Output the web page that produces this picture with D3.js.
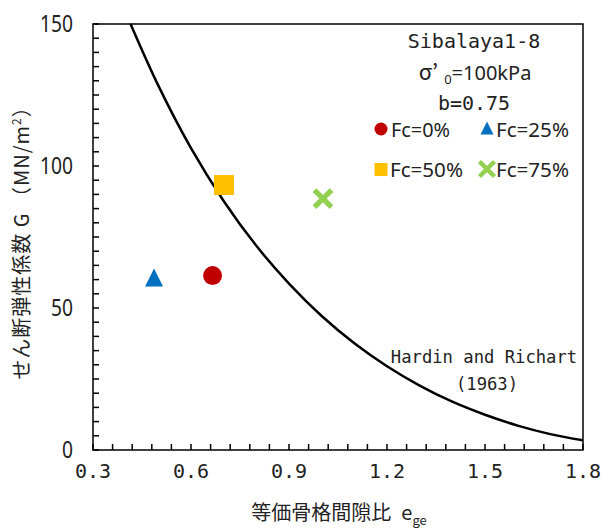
<!DOCTYPE html>
<html>
<head>
<meta charset="utf-8">
<script src="https://cdn.jsdelivr.net/npm/d3@7"></script>
<style>
  body { margin: 0; background: #fff; }
  svg { display: block; }
</style>
</head>
<body>
<svg id="chart" width="604" height="528"></svg>
<script>
// Hardin and Richart (1963) curve
let curveE = [0.415, 0.5, 0.6, 0.7, 0.8, 0.9, 1.0, 1.1, 1.2, 1.3, 1.4, 1.5, 1.6, 1.7, 1.8];
let curveG = [150, 128.3, 106.3, 87.7, 71.9, 58.6, 47.2, 37.6, 29.5, 22.7, 17.0, 12.4, 8.6, 5.6, 3.4];

// test points
let seriesNames = ['Fc=0%', 'Fc=25%', 'Fc=50%', 'Fc=75%'];
let seriesE = [0.666, 0.487, 0.701, 1.004];
let seriesG = [61.4, 60.2, 93.3, 88.5];
let seriesColors = ['#c00000', '#0070c0', '#ffc000', '#92d050'];
let seriesShapes = ['circle', 'triangle', 'square', 'cross'];

let xTicks = [0.3, 0.6, 0.9, 1.2, 1.5, 1.8];
let yTicks = [0, 50, 100, 150];

let margin = {left: 93, right: 21, top: 24, bottom: 78};
let width = 604, height = 528;

let svg = d3.select('#chart');

let x = d3.scaleLinear().domain([0.3, 1.8]).range([margin.left, width - margin.right]);
let y = d3.scaleLinear().domain([0, 150]).range([height - margin.bottom, margin.top]);

let monoFont = '"DejaVu Sans Mono", monospace';
let sansFont = '"Noto Sans", "Liberation Sans", sans-serif';
let cjkFont = '"Noto Sans CJK JP", sans-serif';

// minor ticks pointing inward
let xMinor = d3.range(0.3, 1.8001, 0.06);
let yMinor = d3.range(0, 150.001, 5);

svg.append('g')
    .selectAll('line')
    .data(xMinor)
    .join('line')
    .attr('x1', d => x(d)).attr('x2', d => x(d))
    .attr('y1', y(0)).attr('y2', y(0) - 6)
    .attr('stroke', '#000').attr('stroke-width', 1.5);

svg.append('g')
    .selectAll('line')
    .data(yMinor)
    .join('line')
    .attr('x1', x(0.3)).attr('x2', x(0.3) + 6)
    .attr('y1', d => y(d)).attr('y2', d => y(d))
    .attr('stroke', '#000').attr('stroke-width', 1.5);

// frame
svg.append('rect')
    .attr('x', x(0.3)).attr('y', y(150))
    .attr('width', x(1.8) - x(0.3)).attr('height', y(0) - y(150))
    .attr('fill', 'none').attr('stroke', '#000').attr('stroke-width', 1.5);

// tick labels
svg.append('g')
    .selectAll('text')
    .data(xTicks)
    .join('text')
    .attr('x', d => x(d))
    .attr('y', 478)
    .attr('text-anchor', 'middle')
    .attr('font-family', monoFont)
    .attr('font-size', 20)
    .attr('fill', '#222')
    .text(d => d.toFixed(1));

svg.append('g')
    .selectAll('text')
    .data(yTicks)
    .join('text')
    .attr('x', 73)
    .attr('y', d => y(d))
    .attr('dy', '0.36em')
    .attr('text-anchor', 'end')
    .attr('font-family', sansFont)
    .attr('font-size', 23)
    .attr('textLength', d => String(d).length * 11)
    .attr('lengthAdjust', 'spacingAndGlyphs')
    .attr('fill', '#222')
    .text(d => d);

// axis titles
let xTitle = svg.append('text')
    .attr('x', 339).attr('y', 520)
    .attr('text-anchor', 'middle')
    .attr('font-family', cjkFont)
    .attr('font-size', 20)
    .attr('fill', '#222');
xTitle.append('tspan').text('等価骨格間隙比');
xTitle.append('tspan').attr('dx', 10).text('e');
xTitle.append('tspan').attr('font-size', 13).attr('dy', 5).text('ge');

let yTitle = svg.append('text')
    .attr('transform', 'translate(29,238) rotate(-90)')
    .attr('text-anchor', 'middle')
    .attr('font-family', cjkFont)
    .attr('font-size', 20)
    .attr('letter-spacing', 1)
    .attr('fill', '#222');
yTitle.append('tspan').text('せん断弾性係数 G （MN/m');
yTitle.append('tspan').attr('font-size', 12).attr('dy', -8).text('2');
yTitle.append('tspan').attr('dy', 8).text('）');

// curve
let curvePts = curveE.map((e, i) => [e, curveG[i]]);
svg.append('path')
    .datum(curvePts)
    .attr('fill', 'none')
    .attr('stroke', '#000')
    .attr('stroke-width', 2.5)
    .attr('d', d3.line().x(d => x(d[0])).y(d => y(d[1])).curve(d3.curveCatmullRom));

svg.append('text')
    .attr('x', 484).attr('y', 363)
    .attr('text-anchor', 'middle')
    .attr('font-family', monoFont)
    .attr('font-size', 17.2)
    .attr('fill', '#222')
    .text('Hardin and Richart');
svg.append('text')
    .attr('x', 487).attr('y', 390)
    .attr('text-anchor', 'middle')
    .attr('font-family', monoFont)
    .attr('font-size', 17.2)
    .attr('fill', '#222')
    .text('(1963)');

// marker drawing
let drawMarker = (sel, shape, color, size) => {
    if (shape === 'circle') {
        sel.append('circle').attr('r', size / 2).attr('fill', color);
    } else if (shape === 'triangle') {
        let s = size;
        sel.append('path')
            .attr('d', `M0,${-s * 0.58}L${s / 2},${s * 0.42}L${-s / 2},${s * 0.42}Z`)
            .attr('fill', color);
    } else if (shape === 'square') {
        sel.append('rect')
            .attr('x', -size / 2).attr('y', -size / 2)
            .attr('width', size).attr('height', size)
            .attr('fill', color);
    } else {
        let h = size / 2;
        sel.append('path')
            .attr('d', `M${-h},${-h}L${h},${h}M${h},${-h}L${-h},${h}`)
            .attr('stroke', color)
            .attr('stroke-width', size * 0.3);
    }
};

let markerSizes = [19, 18, 20, 17];
seriesNames.forEach((name, i) => {
    let g = svg.append('g')
        .attr('transform', `translate(${x(seriesE[i])},${y(seriesG[i])})`);
    drawMarker(g, seriesShapes[i], seriesColors[i], markerSizes[i]);
});

// legend / annotation box
svg.append('text')
    .attr('x', 474).attr('y', 48)
    .attr('text-anchor', 'middle')
    .attr('font-family', monoFont)
    .attr('font-size', 20)
    .attr('fill', '#222')
    .text('Sibalaya1-8');

let sigma = svg.append('text')
    .attr('x', 475).attr('y', 80)
    .attr('text-anchor', 'middle')
    .attr('font-family', sansFont)
    .attr('font-size', 20)
    .attr('fill', '#222');
sigma.append('tspan').attr('font-family', cjkFont).attr('font-size', 22).text('σ’');
sigma.append('tspan').attr('font-size', 13).attr('dy', 4).attr('dx', 6).text('0');
sigma.append('tspan').attr('dy', -4).text('=100kPa');

svg.append('text')
    .attr('x', 474).attr('y', 110)
    .attr('text-anchor', 'middle')
    .attr('font-family', monoFont)
    .attr('font-size', 20)
    .attr('fill', '#222')
    .text('b=0.75');

let legendPos = [[381, 129, 391, 137], [487, 129, 496, 137], [381, 169.5, 390, 177], [487, 169, 496, 177]];
let legendSizes = [13, 13, 13, 15];
seriesNames.forEach((name, i) => {
    let p = legendPos[i];
    let g = svg.append('g').attr('transform', `translate(${p[0]},${p[1]})`);
    drawMarker(g, seriesShapes[i], seriesColors[i], legendSizes[i]);
    svg.append('text')
        .attr('x', p[2]).attr('y', p[3])
        .attr('font-family', sansFont)
        .attr('font-size', 20)
        .attr('textLength', name.length === 5 ? 59 : 73)
        .attr('lengthAdjust', 'spacingAndGlyphs')
        .attr('fill', '#222')
        .text(name);
});
</script>
</body>
</html>
